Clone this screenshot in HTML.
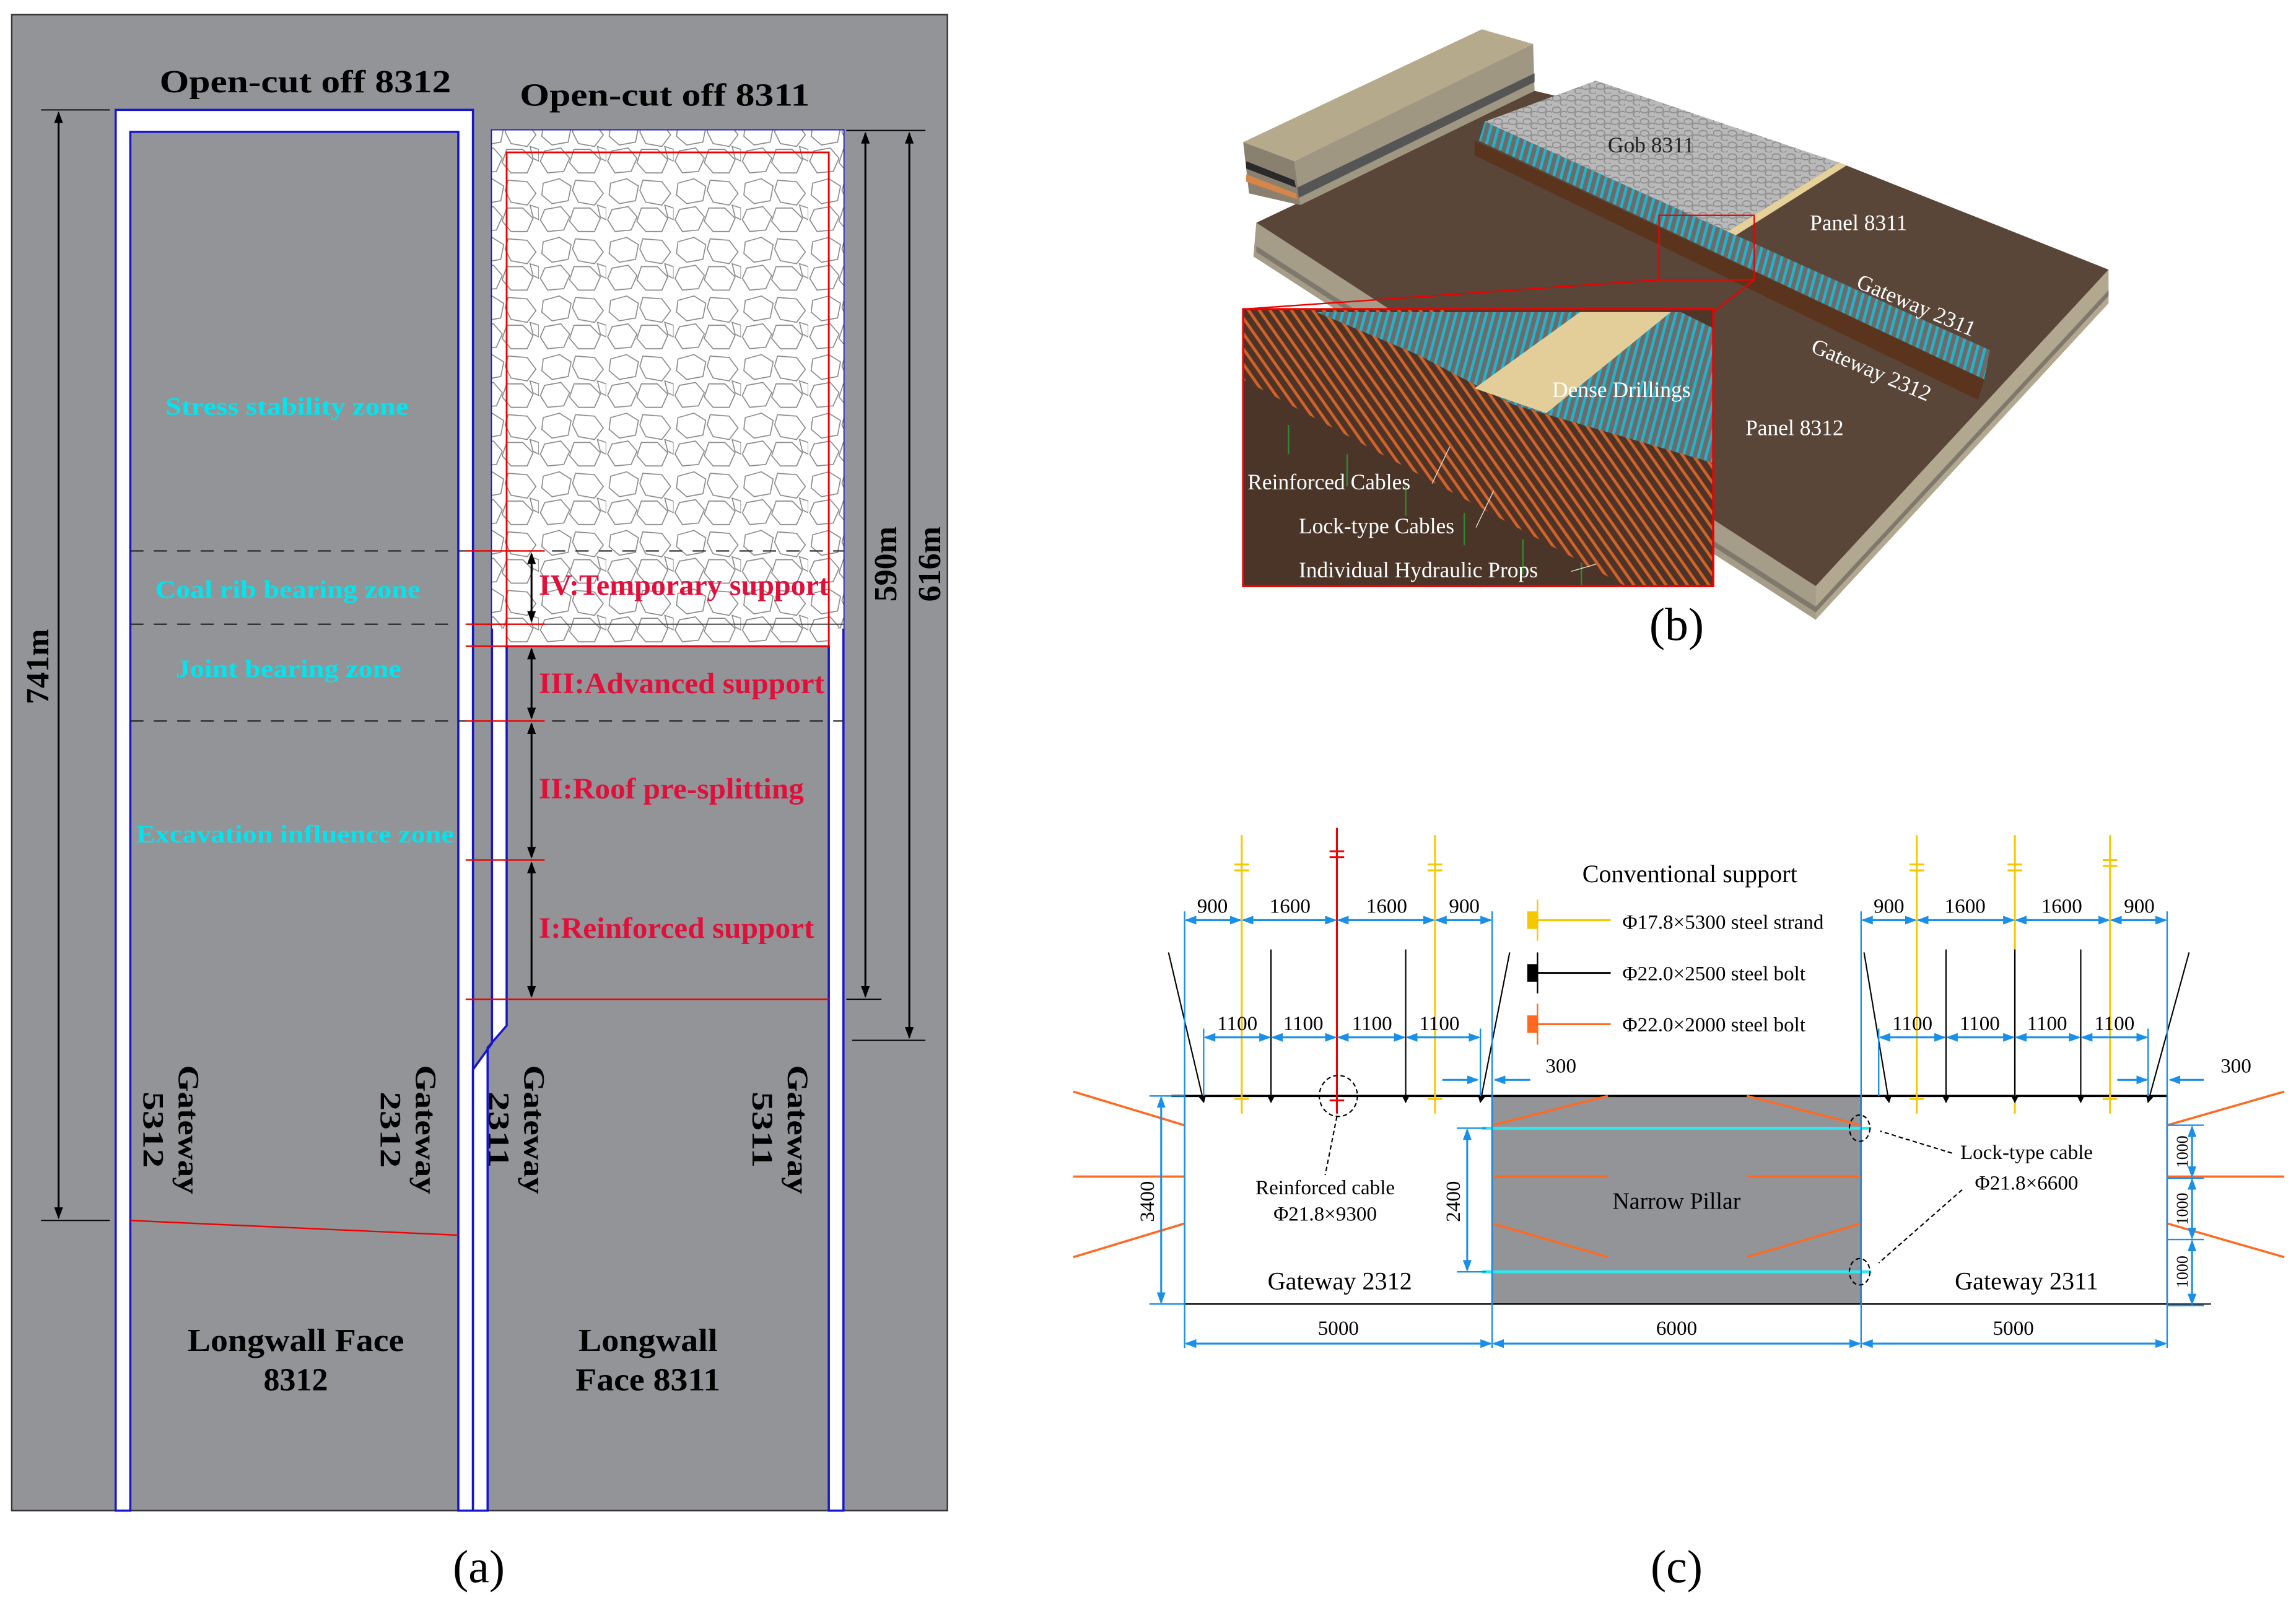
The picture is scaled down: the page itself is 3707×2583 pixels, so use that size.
<!DOCTYPE html>
<html><head><meta charset="utf-8"><style>
html,body{margin:0;padding:0;background:#fff}
svg{display:block}
text{font-family:"Liberation Serif",serif}
</style></head><body>
<svg width="3707" height="2583" viewBox="0 0 1568 1092" preserveAspectRatio="none" xmlns="http://www.w3.org/2000/svg">
<defs>
<pattern id="rock" width="46" height="40" patternUnits="userSpaceOnUse">
<rect width="46" height="40" fill="#fff"/>
<g fill="none" stroke="#888" stroke-width="0.7">
<polygon points="3,5 14,2 22,7 20,17 9,19 2,13"/>
<polygon points="25,3 38,4 44,12 38,20 27,18 23,10"/>
<polygon points="4,23 15,21 21,28 17,37 6,38 1,30"/>
<polygon points="24,22 35,22 42,29 38,38 27,38 21,31"/>
<polygon points="40,20 46,22 46,30 42,28"/>
</g></pattern>
<pattern id="gob" width="10" height="8" patternUnits="userSpaceOnUse">
<rect width="10" height="8" fill="#b9b9b9"/>
<g fill="none" stroke="#8a8a8a" stroke-width="0.7"><ellipse cx="3" cy="3" rx="3" ry="2"/><ellipse cx="8" cy="6" rx="2.5" ry="2"/></g>
</pattern>
<pattern id="orng" width="6" height="6" patternUnits="userSpaceOnUse" patternTransform="rotate(-35)">
<rect width="6" height="6" fill="#4d3427"/><rect width="2" height="6" fill="#d0622a"/>
</pattern>
<pattern id="cyn" width="5" height="5" patternUnits="userSpaceOnUse" patternTransform="rotate(15)">
<rect width="5" height="5" fill="#6d6a68"/><rect width="2" height="5" fill="#22b2cc"/>
</pattern>
<marker id="ab" markerWidth="8" markerHeight="8" refX="7" refY="4" orient="auto-start-reverse" markerUnits="userSpaceOnUse"><path d="M0,1 L8,4 L0,7 Z" fill="#000"/></marker>
<marker id="bl" markerWidth="8" markerHeight="6" refX="7" refY="3" orient="auto-start-reverse" markerUnits="userSpaceOnUse"><path d="M0,0 L8,3 L0,6 Z" fill="#1a8fe8"/></marker>
<marker id="sm" markerWidth="5" markerHeight="5" refX="4" refY="2.5" orient="auto" markerUnits="userSpaceOnUse"><path d="M0,0 L5,2.5 L0,5 Z" fill="#000"/></marker>
</defs>

<!-- Panel (a) -->
<rect x="8" y="10" width="639" height="1021" fill="#939498" stroke="#333" stroke-width="1"/>
<path d="M79,75 H323 V1031 H313 V90 H89 V1031 H79 Z" fill="#fff" stroke="#1515d0" stroke-width="1.5"/>
<path d="M336,89 H576 V1031 H566 V441 H346 V700 L333,715 V1031 H323 V730 L336,712 Z" fill="#fff" stroke="#1515d0" stroke-width="1.5"/>
<rect x="346" y="89" width="220" height="352" fill="url(#rock)"/>
<rect x="336" y="89" width="10" height="340" fill="url(#rock)"/>
<rect x="566" y="89" width="10" height="340" fill="url(#rock)"/>
<rect x="346" y="104" width="220" height="337" fill="none" stroke="#e00" stroke-width="1.2"/>
<line x1="336" y1="426" x2="576" y2="426" stroke="#333" stroke-width="0.8"/>
<g stroke="#222" stroke-width="0.9" stroke-dasharray="9,7">
<line x1="89" y1="376" x2="576" y2="376"/><line x1="89" y1="426" x2="313" y2="426"/><line x1="89" y1="492" x2="576" y2="492"/>
</g>
<g stroke="#e00" stroke-width="1">
<line x1="318" y1="376" x2="372" y2="376"/><line x1="318" y1="426" x2="372" y2="426"/><line x1="318" y1="441" x2="372" y2="441"/>
<line x1="318" y1="492" x2="372" y2="492"/><line x1="318" y1="587" x2="372" y2="587"/><line x1="318" y1="682" x2="566" y2="682"/>
<line x1="89" y1="833" x2="313" y2="843"/>
</g>
<g stroke="#000" stroke-width="1.3" marker-start="url(#ab)" marker-end="url(#ab)">
<line x1="363" y1="378" x2="363" y2="424"/><line x1="363" y1="443" x2="363" y2="490"/>
<line x1="363" y1="494" x2="363" y2="585"/><line x1="363" y1="589" x2="363" y2="680"/>
<line x1="40" y1="77" x2="40" y2="831"/><line x1="591" y1="91" x2="591" y2="680"/><line x1="621" y1="91" x2="621" y2="708"/>
</g>
<g stroke="#000" stroke-width="0.8">
<line x1="28" y1="75" x2="75" y2="75"/><line x1="28" y1="833" x2="75" y2="833"/>
<line x1="578" y1="89" x2="632" y2="89"/><line x1="578" y1="682" x2="602" y2="682"/><line x1="582" y1="710" x2="632" y2="710"/>
</g>
<g font-weight="bold" font-size="22">
<text x="109" y="63" textLength="199" lengthAdjust="spacingAndGlyphs">Open-cut off 8312</text>
<text x="355" y="72" textLength="198" lengthAdjust="spacingAndGlyphs">Open-cut off 8311</text>
<text x="128" y="922" textLength="148" lengthAdjust="spacingAndGlyphs">Longwall Face</text>
<text x="202" y="949" text-anchor="middle">8312</text>
<text x="395" y="922" textLength="95" lengthAdjust="spacingAndGlyphs">Longwall</text>
<text x="393" y="949" textLength="99" lengthAdjust="spacingAndGlyphs">Face 8311</text>
</g>
<g font-weight="bold" font-size="17" fill="#00e5ee">
<text x="113" y="283" textLength="166" lengthAdjust="spacingAndGlyphs">Stress stability zone</text>
<text x="106" y="408" textLength="181" lengthAdjust="spacingAndGlyphs">Coal rib bearing zone</text>
<text x="120" y="462" textLength="154" lengthAdjust="spacingAndGlyphs">Joint bearing zone</text>
<text x="93" y="575" textLength="217" lengthAdjust="spacingAndGlyphs">Excavation influence zone</text>
</g>
<g font-weight="bold" font-size="20" fill="#e0103a">
<text x="368" y="406" textLength="198" lengthAdjust="spacingAndGlyphs">IV:Temporary support</text>
<text x="368" y="473" textLength="195" lengthAdjust="spacingAndGlyphs">III:Advanced support</text>
<text x="368" y="545" textLength="181" lengthAdjust="spacingAndGlyphs">II:Roof pre-splitting</text>
<text x="368" y="640" textLength="188" lengthAdjust="spacingAndGlyphs">I:Reinforced support</text>
</g>
<g font-weight="bold" font-size="22">
<text transform="translate(33,455) rotate(-90)" text-anchor="middle">741m</text>
<text transform="translate(612,385) rotate(-90)" text-anchor="middle">590m</text>
<text transform="translate(642,385) rotate(-90)" text-anchor="middle">616m</text>
</g>
<g font-weight="bold" font-size="20">
<text transform="translate(122,727) rotate(90)" textLength="88" lengthAdjust="spacingAndGlyphs">Gateway</text><text transform="translate(98,745) rotate(90)" textLength="52" lengthAdjust="spacingAndGlyphs">5312</text>
<text transform="translate(284,727) rotate(90)" textLength="88" lengthAdjust="spacingAndGlyphs">Gateway</text><text transform="translate(260,745) rotate(90)" textLength="52" lengthAdjust="spacingAndGlyphs">2312</text>
<text transform="translate(358,727) rotate(90)" textLength="88" lengthAdjust="spacingAndGlyphs">Gateway</text><text transform="translate(334,745) rotate(90)" textLength="52" lengthAdjust="spacingAndGlyphs">2311</text>
<text transform="translate(538,727) rotate(90)" textLength="88" lengthAdjust="spacingAndGlyphs">Gateway</text><text transform="translate(514,745) rotate(90)" textLength="52" lengthAdjust="spacingAndGlyphs">5311</text>
</g>
<text x="327" y="1080" font-size="32" text-anchor="middle">(a)</text>

<!-- Panel (b) -->
<polygon points="858,152 1240,400 1440,184 1440,207 1240,423 856,175" fill="#b2a88f"/>
<polygon points="858,152 1240,400 1240,423 856,175" fill="#a69d88"/>
<polygon points="858,168 1240,414 1440,198 1440,202 1240,418 858,172" fill="#7f786c"/>
<polygon points="858,152 1048,62 1256,111 1440,184 1240,400" fill="#5a4638"/>
<!-- block -->
<polygon points="849,97 1012,20 1047,30 884,110" fill="#b5aa8c"/>
<polygon points="884,110 1047,30 1048,62 888,140" fill="#9f9782"/>
<polygon points="849,97 884,110 888,140 853,132" fill="#8a8070"/>
<polygon points="851,110 884,123 885,128 851,115" fill="#2a2a2a"/>
<polygon points="851,119 885,132 886,136 851,124" fill="#d7864a"/>
<polygon points="886,128 1048,50 1048,56 887,135" fill="#555"/>
<!-- gob -->
<polygon points="1014,83 1090,55 1256,111 1175,161" fill="url(#gob)"/>
<polygon points="1175,161 1256,111 1261,113 1180,164" fill="#e6d19a"/>
<polygon points="1014,83 1359,239 1355,259 1010,96" fill="url(#cyn)"/>
<polygon points="1007,96 1355,259 1351,273 1007,106" fill="#5a341c"/>
<rect x="1133" y="147" width="65" height="44" fill="none" stroke="#e00" stroke-width="1"/>
<line x1="1133" y1="191" x2="849" y2="211" stroke="#e00"/><line x1="1198" y1="191" x2="1170" y2="213" stroke="#e00"/>
<rect x="849" y="211" width="321" height="189" fill="#4d3729"/>
<polygon points="849,211 987,211 1170,316 1170,400 1110,400 849,259" fill="url(#orng)"/>
<polygon points="899,213 1148,213 1170,224 1170,316 1033,276 968,242" fill="url(#cyn)"/>
<polygon points="1079,213 1141,213 1056,282 1007,265" fill="#e3cd98"/>
<polygon points="849,259 1110,400 849,400" fill="#4a3528"/>
<g stroke="#2e8a30" stroke-width="1">
<line x1="880" y1="290" x2="880" y2="310"/><line x1="920" y1="310" x2="920" y2="332"/><line x1="960" y1="330" x2="960" y2="352"/><line x1="1000" y1="350" x2="1000" y2="372"/><line x1="1040" y1="368" x2="1040" y2="392"/><line x1="1080" y1="384" x2="1080" y2="400"/>
</g>
<rect x="849" y="211" width="321" height="189" fill="none" stroke="#e00" stroke-width="1.5"/>
<g stroke="#ddd" stroke-width="0.6">
<line x1="978" y1="330" x2="990" y2="305"/><line x1="1008" y1="360" x2="1020" y2="335"/><line x1="1073" y1="390" x2="1090" y2="385"/>
</g>
<g font-size="15" fill="#fff">
<text x="1098" y="104" fill="#222">Gob 8311</text>
<text x="1236" y="157">Panel 8311</text>
<text x="1267" y="196" transform="rotate(23 1267 196)">Gateway 2311</text>
<text x="1236" y="240" transform="rotate(23 1236 240)">Gateway 2312</text>
<text x="1192" y="297">Panel 8312</text>
<text x="1060" y="271">Dense Drillings</text>
<text x="852" y="334">Reinforced Cables</text>
<text x="887" y="364">Lock-type Cables</text>
<text x="887" y="394">Individual Hydraulic Props</text>
</g>
<text x="1145" y="437" font-size="32" text-anchor="middle">(b)</text>

<!-- Panel (c) -->
<rect x="809" y="748" width="210" height="142" fill="#fff" stroke="#000" stroke-width="1"/>
<rect x="1019" y="748" width="252" height="142" fill="#939498" stroke="#000" stroke-width="1"/>
<rect x="1271" y="748" width="209" height="142" fill="#fff" stroke="#000" stroke-width="1"/>
<line x1="800" y1="748" x2="1480" y2="748" stroke="#000" stroke-width="1.5"/>
<line x1="1480" y1="890" x2="1510" y2="890" stroke="#000" stroke-width="0.8"/>
<g stroke="#f5c800" stroke-width="1.3">
<line x1="848" y1="570" x2="848" y2="760"/><line x1="980" y1="570" x2="980" y2="760"/>
<line x1="1309" y1="570" x2="1309" y2="760"/><line x1="1376" y1="570" x2="1376" y2="760"/><line x1="1441" y1="570" x2="1441" y2="760"/>
<path d="M843,590 h10 M843,594 h10 M975,590 h10 M975,594 h10 M1304,590 h10 M1304,594 h10 M1371,590 h10 M1371,594 h10 M1436,587 h10 M1436,591 h10 M843,750 h10 M975,750 h10 M1304,750 h10 M1436,750 h10"/>
</g>
<g stroke="#e00" stroke-width="1.3"><line x1="913" y1="565" x2="913" y2="760"/><path d="M908,581 h10 M908,585 h10 M908,751 h10"/></g>
<g stroke="#000" stroke-width="0.9" marker-end="url(#sm)">
<line x1="868" y1="648" x2="868" y2="752"/><line x1="960" y1="648" x2="960" y2="752"/>
<line x1="1329" y1="648" x2="1329" y2="752"/><line x1="1376" y1="648" x2="1376" y2="752"/><line x1="1421" y1="648" x2="1421" y2="752"/>
<line x1="798" y1="650" x2="822" y2="752"/><line x1="1031" y1="650" x2="1011" y2="752"/>
<line x1="1273" y1="650" x2="1290" y2="752"/><line x1="1495" y1="650" x2="1467" y2="752"/>
</g>
<g stroke="#ff6a20" stroke-width="1.5">
<line x1="733" y1="745" x2="809" y2="768"/><line x1="733" y1="803" x2="809" y2="803"/><line x1="733" y1="858" x2="809" y2="835"/>
<line x1="1019" y1="768" x2="1098" y2="748"/><line x1="1019" y1="803" x2="1098" y2="803"/><line x1="1019" y1="835" x2="1098" y2="858"/>
<line x1="1271" y1="768" x2="1193" y2="748"/><line x1="1271" y1="803" x2="1193" y2="803"/><line x1="1271" y1="835" x2="1193" y2="858"/>
<line x1="1480" y1="768" x2="1560" y2="745"/><line x1="1480" y1="803" x2="1560" y2="803"/><line x1="1480" y1="835" x2="1560" y2="858"/>
</g>
<g stroke="#2ee8f0" stroke-width="2"><line x1="1012" y1="770" x2="1278" y2="770"/><line x1="1012" y1="868" x2="1278" y2="868"/></g>
<g stroke="#1a8fe8" stroke-width="1" fill="none">
<path d="M809,622 V920 M1019,622 V920 M1271,622 V920 M1480,622 V920 M822,702 V748 M1011,702 V748 M1283,702 V748 M1467,702 V748"/>
<path d="M785,748 H809 M785,890 H809 M995,770 H1015 M995,868 H1015 M1480,768 H1505 M1480,804 H1505 M1480,846 H1505 M1480,891 H1505"/>
</g>
<g stroke="#1a8fe8" stroke-width="1.3" marker-start="url(#bl)" marker-end="url(#bl)">
<line x1="810" y1="628" x2="847" y2="628"/><line x1="849" y1="628" x2="912" y2="628"/><line x1="914" y1="628" x2="979" y2="628"/><line x1="981" y1="628" x2="1018" y2="628"/>
<line x1="1272" y1="628" x2="1308" y2="628"/><line x1="1310" y1="628" x2="1375" y2="628"/><line x1="1377" y1="628" x2="1440" y2="628"/><line x1="1442" y1="628" x2="1479" y2="628"/>
<line x1="823" y1="708" x2="867" y2="708"/><line x1="869" y1="708" x2="912" y2="708"/><line x1="914" y1="708" x2="959" y2="708"/><line x1="961" y1="708" x2="1010" y2="708"/>
<line x1="1284" y1="708" x2="1328" y2="708"/><line x1="1330" y1="708" x2="1375" y2="708"/><line x1="1377" y1="708" x2="1420" y2="708"/><line x1="1422" y1="708" x2="1466" y2="708"/>
<line x1="810" y1="917" x2="1018" y2="917"/><line x1="1020" y1="917" x2="1270" y2="917"/><line x1="1272" y1="917" x2="1479" y2="917"/>
<line x1="793" y1="749" x2="793" y2="889"/><line x1="1002" y1="771" x2="1002" y2="867"/>
<line x1="1497" y1="769" x2="1497" y2="803"/><line x1="1497" y1="805" x2="1497" y2="845"/><line x1="1497" y1="847" x2="1497" y2="890"/>
</g>
<g stroke="#1a8fe8" stroke-width="1.3">
<line x1="985" y1="737" x2="1009" y2="737" marker-end="url(#bl)"/><line x1="1045" y1="737" x2="1021" y2="737" marker-end="url(#bl)"/>
<line x1="1446" y1="737" x2="1466" y2="737" marker-end="url(#bl)"/><line x1="1505" y1="737" x2="1482" y2="737" marker-end="url(#bl)"/>
</g>
<line x1="1045" y1="628" x2="1100" y2="628" stroke="#f5c800" stroke-width="1.3"/><rect x="1043" y="622" width="7" height="12" fill="#f5c800"/><line x1="1050" y1="614" x2="1050" y2="642" stroke="#f5c800"/>
<line x1="1045" y1="664" x2="1100" y2="664" stroke="#000" stroke-width="1.3"/><rect x="1043" y="658" width="7" height="12" fill="#000"/><line x1="1050" y1="650" x2="1050" y2="678" stroke="#000"/>
<line x1="1045" y1="699" x2="1100" y2="699" stroke="#ff6a20" stroke-width="1.3"/><rect x="1043" y="693" width="7" height="12" fill="#ff6a20"/><line x1="1050" y1="685" x2="1050" y2="713" stroke="#ff6a20"/>
<g fill="none" stroke="#000" stroke-width="0.9" stroke-dasharray="3,2">
<ellipse cx="914" cy="748" rx="13" ry="14"/><ellipse cx="1270" cy="770" rx="7" ry="9"/><ellipse cx="1270" cy="868" rx="7" ry="9"/>
<line x1="913" y1="762" x2="905" y2="802"/><line x1="1333" y1="787" x2="1284" y2="772"/><line x1="1340" y1="812" x2="1283" y2="862"/>
</g>
<g font-size="14" text-anchor="middle">
<text x="828" y="623">900</text><text x="881" y="623">1600</text><text x="947" y="623">1600</text><text x="1000" y="623">900</text>
<text x="1290" y="623">900</text><text x="1342" y="623">1600</text><text x="1408" y="623">1600</text><text x="1461" y="623">900</text>
<text x="845" y="703">1100</text><text x="890" y="703">1100</text><text x="937" y="703">1100</text><text x="983" y="703">1100</text>
<text x="1306" y="703">1100</text><text x="1352" y="703">1100</text><text x="1398" y="703">1100</text><text x="1444" y="703">1100</text>
<text x="1066" y="732">300</text><text x="1527" y="732">300</text>
<text x="914" y="911">5000</text><text x="1145" y="911">6000</text><text x="1375" y="911">5000</text>
<text x="905" y="815">Reinforced cable</text><text x="905" y="833">Φ21.8×9300</text>
<text x="1384" y="791">Lock-type cable</text><text x="1384" y="812">Φ21.8×6600</text>
<text x="1145" y="825" font-size="16">Narrow Pillar</text>
<text x="915" y="880" font-size="17">Gateway 2312</text><text x="1384" y="880" font-size="17">Gateway 2311</text>
<text x="1154" y="602" font-size="17">Conventional support</text>
</g>
<g font-size="14">
<text x="1108" y="634">Φ17.8×5300 steel strand</text>
<text x="1108" y="669">Φ22.0×2500 steel bolt</text>
<text x="1108" y="704">Φ22.0×2000 steel bolt</text>
<text transform="translate(788,820) rotate(-90)" text-anchor="middle">3400</text>
<text transform="translate(997,820) rotate(-90)" text-anchor="middle">2400</text>
<text transform="translate(1494,786) rotate(-90)" text-anchor="middle" font-size="11">1000</text>
<text transform="translate(1494,825) rotate(-90)" text-anchor="middle" font-size="11">1000</text>
<text transform="translate(1494,868) rotate(-90)" text-anchor="middle" font-size="11">1000</text>
</g>
<text x="1145" y="1080" font-size="32" text-anchor="middle">(c)</text>
</svg>
</body></html>
